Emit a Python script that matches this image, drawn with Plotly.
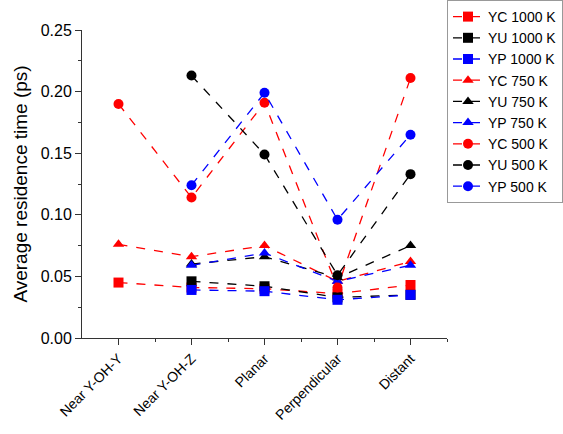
import plotly.graph_objects as go

categories = ["Near Y-OH-Y", "Near Y-OH-Z", "Planar", "Perpendicular", "Distant"]

yc_1000 = [0.045, 0.041, 0.040, 0.036, 0.043]
yu_1000 = [None, 0.046, 0.042, 0.033, 0.035]
yp_1000 = [None, 0.039, 0.038, 0.031, 0.035]
yc_750 = [0.076, 0.066, 0.075, 0.046, 0.062]
yu_750 = [None, 0.060, 0.066, 0.049, 0.075]
yp_750 = [None, 0.059, 0.069, 0.046, 0.059]
yc_500 = [0.190, 0.114, 0.191, 0.041, 0.211]
yu_500 = [None, 0.213, 0.149, 0.051, 0.133]
yp_500 = [None, 0.124, 0.199, 0.096, 0.165]

y_ticks = [0.00, 0.05, 0.10, 0.15, 0.20, 0.25]

series = [
    ("YC 1000 K", yc_1000, "#FF0000", "square"),
    ("YU 1000 K", yu_1000, "#000000", "square"),
    ("YP 1000 K", yp_1000, "#0000FF", "square"),
    ("YC 750 K", yc_750, "#FF0000", "triangle-up"),
    ("YU 750 K", yu_750, "#000000", "triangle-up"),
    ("YP 750 K", yp_750, "#0000FF", "triangle-up"),
    ("YC 500 K", yc_500, "#FF0000", "circle"),
    ("YU 500 K", yu_500, "#000000", "circle"),
    ("YP 500 K", yp_500, "#0000FF", "circle"),
]

xs = list(range(len(categories)))

fig = go.Figure()
for name, vals, color, sym in series:
    fig.add_trace(go.Scatter(
        x=xs, y=vals, name=name, mode="lines+markers",
        connectgaps=False,
        line=dict(color=color, width=1.3, dash="dash"),
        marker=dict(color=color, symbol=sym, size=10),
    ))

fig.update_layout(
    width=563, height=434,
    margin=dict(l=82, r=116, t=30, b=96, autoexpand=False),
    paper_bgcolor="white", plot_bgcolor="white",
    font=dict(family="Liberation Sans, Arial, sans-serif", color="#000000"),
    showlegend=True,
    legend=dict(
        x=1.0, y=1.0 + 30/308, xanchor="left", yanchor="top",
        bordercolor="#999999", borderwidth=1,
        font=dict(size=14), tracegroupgap=0, itemsizing="trace",
        itemwidth=30, bgcolor="white",
    ),
)

fig.update_xaxes(
    range=[-0.5, 4.5], automargin=False,
    tickmode="array", tickvals=xs, ticktext=categories,
    tickangle=-45, tickfont=dict(size=14),
    showline=True, linecolor="#333333", linewidth=1,
    ticks="outside", ticklen=6, tickcolor="#333333",
    minor=dict(tickvals=[0.5, 1.5, 2.5, 3.5, 4.5], ticks="outside", ticklen=3, tickcolor="#333333"),
    showgrid=False, zeroline=False,
)
fig.update_yaxes(
    range=[0, 0.25], automargin=False,
    tickmode="array", tickvals=y_ticks, ticktext=[f"{v:.2f}" for v in y_ticks],
    tickfont=dict(size=16),
    title=dict(text="Average residence time (ps)", font=dict(size=19), standoff=8),
    showline=True, linecolor="#333333", linewidth=1,
    ticks="outside", ticklen=6, tickcolor="#333333",
    minor=dict(tickvals=[0.025, 0.075, 0.125, 0.175, 0.225], ticks="outside", ticklen=3, tickcolor="#333333"),
    showgrid=False, zeroline=False,
)

fig.write_html("out.html")
